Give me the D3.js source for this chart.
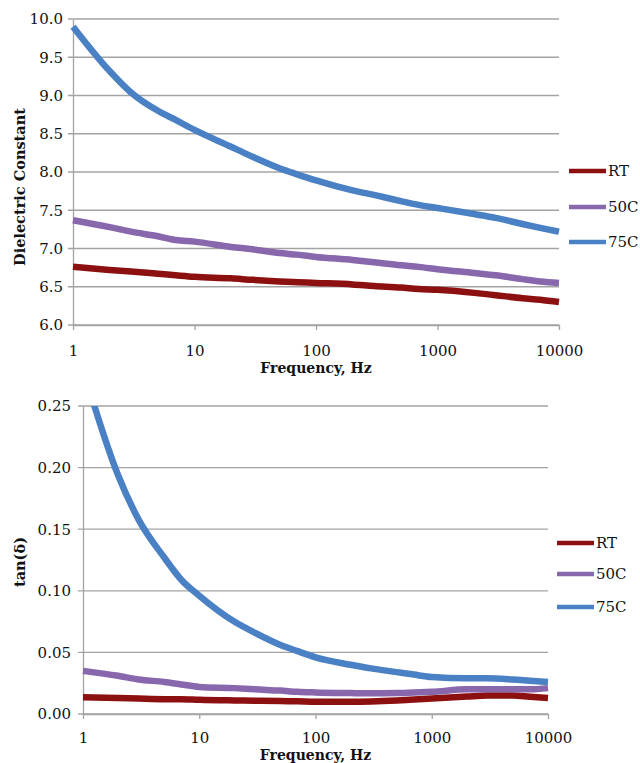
<!DOCTYPE html>
<html>
<head>
<meta charset="utf-8">
<script src="https://cdn.jsdelivr.net/npm/d3@7"></script>
<style>
    body { margin: 0; background: #fff; }
    svg { display: block; }
    text { font-family: "DejaVu Serif", serif; fill: #111; }
</style>
</head>
<body>
<svg id="chart" width="640" height="763"></svg>
<script>
    // frequencies (Hz)
    var freqs = [1, 2, 3, 5, 7, 10, 20, 30, 50, 70, 100, 200, 300, 500, 700, 1000, 2000, 3000, 5000, 7000, 10000];
    var freqTicks = [1, 10, 100, 1000, 10000];
    var seriesNames = ['RT', '50C', '75C'];
    var seriesColors = ['#8c1010', '#8867ad', '#4a80c4'];

    // dielectric constant
    var dk_RT  = [6.76, 6.72, 6.70, 6.67, 6.65, 6.63, 6.61, 6.59, 6.57, 6.56, 6.55, 6.53, 6.51, 6.49, 6.47, 6.46, 6.42, 6.39, 6.35, 6.33, 6.30];
    var dk_50C = [7.37, 7.28, 7.22, 7.16, 7.11, 7.09, 7.02, 6.99, 6.94, 6.92, 6.89, 6.85, 6.82, 6.78, 6.76, 6.73, 6.68, 6.65, 6.60, 6.57, 6.55];
    var dk_75C = [9.90, 9.32, 9.04, 8.80, 8.68, 8.55, 8.33, 8.20, 8.05, 7.97, 7.89, 7.76, 7.70, 7.62, 7.57, 7.53, 7.45, 7.40, 7.32, 7.27, 7.22];
    var dkTicks = [6.0, 6.5, 7.0, 7.5, 8.0, 8.5, 9.0, 9.5, 10.0];

    // loss tangent
    var tan_RT  = [0.0135, 0.013, 0.0125, 0.012, 0.012, 0.0115, 0.011, 0.0108, 0.0105, 0.0103, 0.010, 0.010, 0.0102, 0.011, 0.0118, 0.0125, 0.0142, 0.015, 0.015, 0.014, 0.013];
    var tan_50C = [0.035, 0.031, 0.028, 0.026, 0.024, 0.022, 0.021, 0.020, 0.019, 0.018, 0.0175, 0.017, 0.0168, 0.017, 0.0175, 0.018, 0.020, 0.020, 0.020, 0.020, 0.021];
    var tan_75C = [0.28, 0.194, 0.158, 0.127, 0.109, 0.096, 0.075, 0.066, 0.056, 0.051, 0.046, 0.040, 0.037, 0.034, 0.032, 0.030, 0.029, 0.029, 0.028, 0.027, 0.026];
    var tanTicks = [0.00, 0.05, 0.10, 0.15, 0.20, 0.25];

    var svg = d3.select('#chart');

    // function for one log-x line chart
    function LineChartInit(opt) {
        var w = opt.right - opt.left;
        var h = opt.bottom - opt.top;

        var xScale = d3.scaleLog().domain([1, 10000]).range([0, w]);
        var yScale = d3.scaleLinear().domain([opt.yTicks[0], opt.yTicks[opt.yTicks.length - 1]]).range([h, 0]);

        var g = svg.append('g')
            .attr('transform', 'translate(' + opt.left + ',' + opt.top + ')');

        // horizontal gridlines, poking out 5px left of the axis
        g.selectAll('.grid')
            .data(opt.yTicks)
            .enter()
            .append('line')
            .attr('class', 'grid')
            .attr('x1', -5)
            .attr('x2', w)
            .attr('y1', function (d) { return yScale(d); })
            .attr('y2', function (d) { return yScale(d); })
            .attr('stroke', '#a3a3a3')
            .attr('stroke-width', 1.3);

        // y axis labels
        var yAxis = g.append('g')
            .call(d3.axisLeft(yScale).tickValues(opt.yTicks).tickFormat(d3.format(opt.yFormat)).tickSize(0).tickPadding(opt.yPad));
        yAxis.select('.domain').attr('stroke', '#a3a3a3').attr('stroke-width', 1.3);
        yAxis.selectAll('text').style('font-size', '15px').attr('font-family', '"DejaVu Serif", serif');

        // x axis
        var xAxis = g.append('g')
            .attr('transform', 'translate(0,' + h + ')')
            .call(d3.axisBottom(xScale).tickValues(freqTicks).tickFormat(d3.format('d')).tickSizeInner(5).tickSizeOuter(0).tickPadding(opt.xPad));
        xAxis.select('.domain').attr('stroke', '#a3a3a3').attr('stroke-width', 1.3);
        xAxis.selectAll('.tick line').attr('stroke', '#a3a3a3').attr('stroke-width', 1.3);
        xAxis.selectAll('text').style('font-size', '15px').attr('font-family', '"DejaVu Serif", serif');

        // axis titles
        g.append('text')
            .attr('x', w / 2)
            .attr('y', opt.xTitleY - opt.top)
            .attr('text-anchor', 'middle')
            .style('font-size', '14px')
            .style('font-weight', 'bold')
            .text('Frequency, Hz');

        svg.append('text')
            .attr('transform', 'translate(' + opt.yTitleX + ',' + opt.yTitleY + ') rotate(-90)')
            .attr('text-anchor', 'middle')
            .style('font-size', '14.5px')
            .style('font-weight', 'bold')
            .text(opt.yTitle);

        // clip lines to plot area
        g.append('clipPath')
            .attr('id', opt.id + '-clip')
            .append('rect')
            .attr('x', -10).attr('y', 0)
            .attr('width', w + 20).attr('height', h + 10);

        var line = d3.line()
            .x(function (d) { return xScale(d[0]); })
            .y(function (d) { return yScale(d[1]); })
            .curve(d3.curveMonotoneX);

        g.append('g')
            .attr('clip-path', 'url(#' + opt.id + '-clip)')
            .selectAll('path')
            .data(opt.series)
            .enter()
            .append('path')
            .attr('fill', 'none')
            .attr('stroke', function (d, i) { return seriesColors[i]; })
            .attr('stroke-width', 6.5)
            .attr('stroke-linejoin', 'round')
            .attr('d', function (d) {
                return line(freqs.map(function (f, k) { return [f, d[k]]; }));
            });

        // legend
        var leg = svg.selectAll('.leg-' + opt.id)
            .data(seriesNames)
            .enter()
            .append('g')
            .attr('class', 'leg-' + opt.id)
            .attr('transform', function (d, i) { return 'translate(' + opt.legX + ',' + opt.legY[i] + ')'; });

        leg.append('line')
            .attr('x1', 0).attr('x2', 37)
            .attr('y1', 0).attr('y2', 0)
            .attr('stroke', function (d, i) { return seriesColors[i]; })
            .attr('stroke-width', 4.5);

        leg.append('text')
            .attr('x', 39)
            .attr('dy', '0.35em')
            .style('font-size', '15px')
            .text(function (d) { return d; });
    }

    LineChartInit({
        id: 'dk', left: 73, right: 559, top: 19, bottom: 325,
        yTicks: dkTicks, yFormat: '.1f', yPad: 10, xPad: 15,
        xTitleY: 373, yTitle: 'Dielectric Constant', yTitleX: 25, yTitleY: 187,
        series: [dk_RT, dk_50C, dk_75C],
        legX: 569, legY: [171, 207, 242]
    });

    LineChartInit({
        id: 'tan', left: 83, right: 548, top: 406, bottom: 714,
        yTicks: tanTicks, yFormat: '.2f', yPad: 12, xPad: 13,
        xTitleY: 760, yTitle: 'tan(δ)', yTitleX: 25, yTitleY: 562,
        series: [tan_RT, tan_50C, tan_75C],
        legX: 557, legY: [543, 574, 607]
    });
</script>
</body>
</html>
